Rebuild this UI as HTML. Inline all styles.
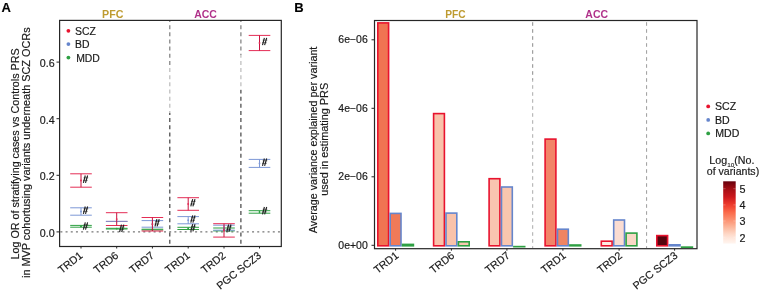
<!DOCTYPE html>
<html><head><meta charset="utf-8"><style>
html,body{margin:0;padding:0;background:#fff;width:763px;height:292px;overflow:hidden}
svg{display:block;will-change:transform}
text{font-family:"Liberation Sans", sans-serif;stroke:currentColor;stroke-width:0.18px}
</style></head><body>
<svg fill="#1a1a1a" color="#1a1a1a" width="763" height="292" viewBox="0 0 763 292">
<text x="1.5" y="12" font-size="13" font-weight="bold" fill="#000">A</text>
<text transform="translate(19.3,153.9) rotate(-90)" text-anchor="middle" font-size="10.78">Log OR of stratifying cases vs Controls PRS</text>
<text transform="translate(30,152.7) rotate(-90)" text-anchor="middle" font-size="10.88">in MVP cohortusing variants underneath SCZ OCRs</text>
<line x1="56.5" x2="59.5" y1="231.9" y2="231.9" stroke="#262626" stroke-width="1"/>
<text transform="translate(54.6,236.9) scale(1.07,1)" text-anchor="end" font-size="10">0.0</text>
<line x1="56.5" x2="59.5" y1="175.3" y2="175.3" stroke="#262626" stroke-width="1"/>
<text transform="translate(54.6,180.3) scale(1.07,1)" text-anchor="end" font-size="10">0.2</text>
<line x1="56.5" x2="59.5" y1="118.7" y2="118.7" stroke="#262626" stroke-width="1"/>
<text transform="translate(54.6,123.7) scale(1.07,1)" text-anchor="end" font-size="10">0.4</text>
<line x1="56.5" x2="59.5" y1="62.1" y2="62.1" stroke="#262626" stroke-width="1"/>
<text transform="translate(54.6,67.1) scale(1.07,1)" text-anchor="end" font-size="10">0.6</text>
<line x1="169.8" x2="169.8" y1="21" y2="68" stroke="#777" stroke-width="1.15" stroke-dasharray="4 3.15" stroke-dashoffset="3.00"/>
<line x1="169.8" x2="169.8" y1="68" y2="113" stroke="#b8b8b8" stroke-width="1.15" stroke-dasharray="4 3.15" stroke-dashoffset="50.00"/>
<line x1="169.8" x2="169.8" y1="113" y2="246" stroke="#3a3a3a" stroke-width="1.15" stroke-dasharray="4 3.15" stroke-dashoffset="95.00"/>
<line x1="240.9" x2="240.9" y1="21" y2="55" stroke="#777" stroke-width="1.15" stroke-dasharray="4 3.15" stroke-dashoffset="3.00"/>
<line x1="240.9" x2="240.9" y1="55" y2="90" stroke="#b8b8b8" stroke-width="1.15" stroke-dasharray="4 3.15" stroke-dashoffset="37.00"/>
<line x1="240.9" x2="240.9" y1="90" y2="246" stroke="#3a3a3a" stroke-width="1.15" stroke-dasharray="4 3.15" stroke-dashoffset="72.00"/>
<line x1="60.4" x2="281" y1="231.9" y2="231.9" stroke="#555" stroke-width="1" stroke-dasharray="2 3.18"/>
<rect x="59.6" y="20.4" width="221.70000000000002" height="226.1" fill="none" stroke="#262626" stroke-width="1.2"/>
<line x1="81.0" x2="81.0" y1="246.5" y2="248.5" stroke="#262626" stroke-width="1"/>
<line x1="116.7" x2="116.7" y1="246.5" y2="248.5" stroke="#262626" stroke-width="1"/>
<line x1="152.4" x2="152.4" y1="246.5" y2="248.5" stroke="#262626" stroke-width="1"/>
<line x1="188.2" x2="188.2" y1="246.5" y2="248.5" stroke="#262626" stroke-width="1"/>
<line x1="224.0" x2="224.0" y1="246.5" y2="248.5" stroke="#262626" stroke-width="1"/>
<line x1="259.5" x2="259.5" y1="246.5" y2="248.5" stroke="#262626" stroke-width="1"/>
<text transform="translate(83.5,256.7) rotate(-38.5)" text-anchor="end" font-size="10.7">TRD1</text>
<text transform="translate(119.2,256.7) rotate(-38.5)" text-anchor="end" font-size="10.7">TRD6</text>
<text transform="translate(154.9,256.7) rotate(-38.5)" text-anchor="end" font-size="10.7">TRD7</text>
<text transform="translate(190.7,256.7) rotate(-38.5)" text-anchor="end" font-size="10.7">TRD1</text>
<text transform="translate(226.5,256.7) rotate(-38.5)" text-anchor="end" font-size="10.7">TRD2</text>
<text transform="translate(262.0,256.7) rotate(-38.5)" text-anchor="end" font-size="10.7">PGC SCZ3</text>
<text transform="translate(102.1,17.8) scale(1.07,1)" font-size="10" font-weight="bold" fill="#BE9B30" style="stroke:none">PFC</text>
<text transform="translate(194.2,17.8) scale(1.05,1)" font-size="10" font-weight="bold" fill="#B0328A" style="stroke:none">ACC</text>
<circle cx="68.4" cy="30.8" r="1.9" fill="#E8132E"/>
<text transform="translate(75,34.8) scale(1.04,1)" font-size="10">SCZ</text>
<circle cx="68.4" cy="44.1" r="1.9" fill="#6585CC"/>
<text transform="translate(75,48.1) scale(1.04,1)" font-size="10">BD</text>
<circle cx="68.4" cy="57.6" r="1.9" fill="#2EA043"/>
<text transform="translate(76.2,61.6) scale(1.04,1)" font-size="10">MDD</text>
<line x1="70.2" x2="91.8" y1="225.4" y2="225.4" stroke="#2EA043" stroke-width="1"/>
<line x1="70.2" x2="91.8" y1="227.2" y2="227.2" stroke="#2EA043" stroke-width="1"/>
<line x1="81.0" x2="81.0" y1="225.4" y2="227.2" stroke="#2EA043" stroke-width="1"/>
<circle cx="81.0" cy="226.3" r="0.9" fill="#2EA043"/>
<line x1="105.9" x2="127.5" y1="228.3" y2="228.3" stroke="#2EA043" stroke-width="1"/>
<line x1="105.9" x2="127.5" y1="229.0" y2="229.0" stroke="#2EA043" stroke-width="1"/>
<line x1="116.7" x2="116.7" y1="228.3" y2="229.0" stroke="#2EA043" stroke-width="1"/>
<circle cx="116.7" cy="228.7" r="0.9" fill="#2EA043"/>
<line x1="141.6" x2="163.2" y1="229.2" y2="229.2" stroke="#2EA043" stroke-width="1"/>
<line x1="141.6" x2="163.2" y1="229.9" y2="229.9" stroke="#2EA043" stroke-width="1"/>
<line x1="152.4" x2="152.4" y1="229.2" y2="229.9" stroke="#2EA043" stroke-width="1"/>
<circle cx="152.4" cy="229.6" r="0.9" fill="#2EA043"/>
<line x1="177.4" x2="199.0" y1="227.3" y2="227.3" stroke="#2EA043" stroke-width="1"/>
<line x1="177.4" x2="199.0" y1="229.5" y2="229.5" stroke="#2EA043" stroke-width="1"/>
<line x1="188.2" x2="188.2" y1="227.3" y2="229.5" stroke="#2EA043" stroke-width="1"/>
<circle cx="188.2" cy="228.4" r="0.9" fill="#2EA043"/>
<line x1="213.2" x2="234.8" y1="228.0" y2="228.0" stroke="#2EA043" stroke-width="1"/>
<line x1="213.2" x2="234.8" y1="230.9" y2="230.9" stroke="#2EA043" stroke-width="1"/>
<line x1="224.0" x2="224.0" y1="228.0" y2="230.9" stroke="#2EA043" stroke-width="1"/>
<circle cx="224.0" cy="229.4" r="0.9" fill="#2EA043"/>
<line x1="248.7" x2="270.3" y1="210.7" y2="210.7" stroke="#2EA043" stroke-width="1"/>
<line x1="248.7" x2="270.3" y1="213.2" y2="213.2" stroke="#2EA043" stroke-width="1"/>
<line x1="259.5" x2="259.5" y1="210.7" y2="213.2" stroke="#2EA043" stroke-width="1"/>
<circle cx="259.5" cy="211.9" r="0.9" fill="#2EA043"/>
<line x1="70.2" x2="91.8" y1="207.8" y2="207.8" stroke="#7D98D6" stroke-width="1"/>
<line x1="70.2" x2="91.8" y1="215.2" y2="215.2" stroke="#7D98D6" stroke-width="1"/>
<line x1="81.0" x2="81.0" y1="207.8" y2="215.2" stroke="#7D98D6" stroke-width="1"/>
<circle cx="81.0" cy="211.5" r="0.9" fill="#7D98D6"/>
<line x1="105.9" x2="127.5" y1="221.4" y2="221.4" stroke="#8C88C0" stroke-width="1"/>
<line x1="105.9" x2="127.5" y1="221.4" y2="221.4" stroke="#8C88C0" stroke-width="1"/>
<line x1="116.7" x2="116.7" y1="221.4" y2="221.4" stroke="#8C88C0" stroke-width="1"/>
<circle cx="116.7" cy="221.4" r="0.9" fill="#8C88C0"/>
<line x1="141.6" x2="163.2" y1="220.6" y2="220.6" stroke="#7D98D6" stroke-width="1"/>
<line x1="141.6" x2="163.2" y1="227.2" y2="227.2" stroke="#7D98D6" stroke-width="1"/>
<line x1="152.4" x2="152.4" y1="220.6" y2="227.2" stroke="#7D98D6" stroke-width="1"/>
<circle cx="152.4" cy="223.9" r="0.9" fill="#7D98D6"/>
<line x1="177.4" x2="199.0" y1="216.6" y2="216.6" stroke="#7D98D6" stroke-width="1"/>
<line x1="177.4" x2="199.0" y1="223.8" y2="223.8" stroke="#7D98D6" stroke-width="1"/>
<line x1="188.2" x2="188.2" y1="216.6" y2="223.8" stroke="#7D98D6" stroke-width="1"/>
<circle cx="188.2" cy="220.2" r="0.9" fill="#7D98D6"/>
<line x1="213.2" x2="234.8" y1="225.2" y2="225.2" stroke="#7D98D6" stroke-width="1"/>
<line x1="213.2" x2="234.8" y1="230.2" y2="230.2" stroke="#7D98D6" stroke-width="1"/>
<line x1="224.0" x2="224.0" y1="225.2" y2="230.2" stroke="#7D98D6" stroke-width="1"/>
<circle cx="224.0" cy="227.7" r="0.9" fill="#7D98D6"/>
<line x1="248.7" x2="270.3" y1="159.4" y2="159.4" stroke="#7D98D6" stroke-width="1"/>
<line x1="248.7" x2="270.3" y1="167.4" y2="167.4" stroke="#7D98D6" stroke-width="1"/>
<line x1="259.5" x2="259.5" y1="159.4" y2="167.4" stroke="#7D98D6" stroke-width="1"/>
<circle cx="259.5" cy="163.4" r="0.9" fill="#7D98D6"/>
<line x1="70.2" x2="91.8" y1="173.8" y2="173.8" stroke="#E42D55" stroke-width="1"/>
<line x1="70.2" x2="91.8" y1="187.2" y2="187.2" stroke="#E42D55" stroke-width="1"/>
<line x1="81.0" x2="81.0" y1="173.8" y2="187.2" stroke="#C8123E" stroke-width="1"/>
<circle cx="81.0" cy="180.5" r="0.9" fill="#E42D55"/>
<line x1="105.9" x2="127.5" y1="212.7" y2="212.7" stroke="#E42D55" stroke-width="1"/>
<line x1="105.9" x2="127.5" y1="225.5" y2="225.5" stroke="#E42D55" stroke-width="1"/>
<line x1="116.7" x2="116.7" y1="212.7" y2="225.5" stroke="#C8123E" stroke-width="1"/>
<circle cx="116.7" cy="219.1" r="0.9" fill="#E42D55"/>
<line x1="141.6" x2="163.2" y1="217.5" y2="217.5" stroke="#E42D55" stroke-width="1"/>
<line x1="141.6" x2="163.2" y1="231.0" y2="231.0" stroke="#E42D55" stroke-width="1"/>
<line x1="152.4" x2="152.4" y1="217.5" y2="231.0" stroke="#C8123E" stroke-width="1"/>
<circle cx="152.4" cy="224.2" r="0.9" fill="#E42D55"/>
<line x1="177.4" x2="199.0" y1="197.7" y2="197.7" stroke="#E42D55" stroke-width="1"/>
<line x1="177.4" x2="199.0" y1="210.3" y2="210.3" stroke="#E42D55" stroke-width="1"/>
<line x1="188.2" x2="188.2" y1="197.7" y2="210.3" stroke="#C8123E" stroke-width="1"/>
<circle cx="188.2" cy="204.0" r="0.9" fill="#E42D55"/>
<line x1="213.2" x2="234.8" y1="223.7" y2="223.7" stroke="#E42D55" stroke-width="1"/>
<line x1="213.2" x2="234.8" y1="237.1" y2="237.1" stroke="#E42D55" stroke-width="1"/>
<line x1="224.0" x2="224.0" y1="223.7" y2="237.1" stroke="#C8123E" stroke-width="1"/>
<circle cx="224.0" cy="230.4" r="0.9" fill="#E42D55"/>
<line x1="248.7" x2="270.3" y1="35.4" y2="35.4" stroke="#E42D55" stroke-width="1"/>
<line x1="248.7" x2="270.3" y1="50.6" y2="50.6" stroke="#E42D55" stroke-width="1"/>
<line x1="259.5" x2="259.5" y1="35.4" y2="50.6" stroke="#C8123E" stroke-width="1"/>
<circle cx="259.5" cy="43.0" r="0.9" fill="#E42D55"/>
<g transform="translate(81.0,180.4)" stroke="#222" fill="none"><path d="M2.4 2.4L4.3 -4.9M4.5 2.4L6.6 -4.9" stroke-width="1.15"/><path d="M2.6 -2.6H7.2M2 0H6.6" stroke-width="0.6"/></g>
<g transform="translate(81.0,211.4)" stroke="#222" fill="none"><path d="M2.4 2.4L4.3 -4.9M4.5 2.4L6.6 -4.9" stroke-width="1.15"/><path d="M2.6 -2.6H7.2M2 0H6.6" stroke-width="0.6"/></g>
<g transform="translate(81.0,227.3)" stroke="#222" fill="none"><path d="M2.4 2.4L4.3 -4.9M4.5 2.4L6.6 -4.9" stroke-width="1.15"/><path d="M2.6 -2.6H7.2M2 0H6.6" stroke-width="0.6"/></g>
<g transform="translate(117.2,229.6)" stroke="#222" fill="none"><path d="M2.4 2.4L4.3 -4.9M4.5 2.4L6.6 -4.9" stroke-width="1.15"/><path d="M2.6 -2.6H7.2M2 0H6.6" stroke-width="0.6"/></g>
<g transform="translate(152.6,224.0)" stroke="#222" fill="none"><path d="M2.4 2.4L4.3 -4.9M4.5 2.4L6.6 -4.9" stroke-width="1.15"/><path d="M2.6 -2.6H7.2M2 0H6.6" stroke-width="0.6"/></g>
<g transform="translate(188.4,204.0)" stroke="#222" fill="none"><path d="M2.4 2.4L4.3 -4.9M4.5 2.4L6.6 -4.9" stroke-width="1.15"/><path d="M2.6 -2.6H7.2M2 0H6.6" stroke-width="0.6"/></g>
<g transform="translate(188.4,220.3)" stroke="#222" fill="none"><path d="M2.4 2.4L4.3 -4.9M4.5 2.4L6.6 -4.9" stroke-width="1.15"/><path d="M2.6 -2.6H7.2M2 0H6.6" stroke-width="0.6"/></g>
<g transform="translate(188.4,229.0)" stroke="#222" fill="none"><path d="M2.4 2.4L4.3 -4.9M4.5 2.4L6.6 -4.9" stroke-width="1.15"/><path d="M2.6 -2.6H7.2M2 0H6.6" stroke-width="0.6"/></g>
<g transform="translate(224.4,229.4)" stroke="#222" fill="none"><path d="M2.4 2.4L4.3 -4.9M4.5 2.4L6.6 -4.9" stroke-width="1.15"/><path d="M2.6 -2.6H7.2M2 0H6.6" stroke-width="0.6"/></g>
<g transform="translate(260.1,42.7)" stroke="#222" fill="none"><path d="M2.4 2.4L4.3 -4.9M4.5 2.4L6.6 -4.9" stroke-width="1.15"/><path d="M2.6 -2.6H7.2M2 0H6.6" stroke-width="0.6"/></g>
<g transform="translate(260.1,163.4)" stroke="#222" fill="none"><path d="M2.4 2.4L4.3 -4.9M4.5 2.4L6.6 -4.9" stroke-width="1.15"/><path d="M2.6 -2.6H7.2M2 0H6.6" stroke-width="0.6"/></g>
<g transform="translate(260.1,211.9)" stroke="#222" fill="none"><path d="M2.4 2.4L4.3 -4.9M4.5 2.4L6.6 -4.9" stroke-width="1.15"/><path d="M2.6 -2.6H7.2M2 0H6.6" stroke-width="0.6"/></g>
<text x="294.3" y="12" font-size="13" font-weight="bold" fill="#000">B</text>
<text transform="translate(316.8,139.9) rotate(-90)" text-anchor="middle" font-size="10.77">Average variance explained per variant</text>
<text transform="translate(327.8,139.3) rotate(-90)" text-anchor="middle" font-size="10.88">used in estimating PRS</text>
<line x1="371.5" x2="374.5" y1="245.3" y2="245.3" stroke="#262626" stroke-width="1"/>
<text transform="translate(367.8,248.8) scale(1.05,1)" text-anchor="end" font-size="10">0e+00</text>
<line x1="371.5" x2="374.5" y1="176.8" y2="176.8" stroke="#262626" stroke-width="1"/>
<text transform="translate(367.8,180.3) scale(1.05,1)" text-anchor="end" font-size="10">2e−06</text>
<line x1="371.5" x2="374.5" y1="108.3" y2="108.3" stroke="#262626" stroke-width="1"/>
<text transform="translate(367.8,111.8) scale(1.05,1)" text-anchor="end" font-size="10">4e−06</text>
<line x1="371.5" x2="374.5" y1="39.8" y2="39.8" stroke="#262626" stroke-width="1"/>
<text transform="translate(367.8,43.3) scale(1.05,1)" text-anchor="end" font-size="10">6e−06</text>
<line x1="532.7" x2="532.7" y1="21" y2="80" stroke="#8a8a8a" stroke-width="1" stroke-dasharray="3.6 3.4" stroke-dashoffset="-1.20"/>
<line x1="532.7" x2="532.7" y1="80" y2="248" stroke="#ababab" stroke-width="1" stroke-dasharray="3.6 3.4" stroke-dashoffset="57.80"/>
<line x1="646.6" x2="646.6" y1="21" y2="248" stroke="#9c9c9c" stroke-width="1" stroke-dasharray="3.6 3.4" stroke-dashoffset="-1.20"/>
<rect x="377.80" y="22.90" width="10.80" height="222.90" fill="#F07452" stroke="#E8132E" stroke-width="1.6"/>
<rect x="390.20" y="213.40" width="10.80" height="32.40" fill="#F07A58" stroke="#6585CC" stroke-width="1.6"/>
<rect x="402.60" y="244.40" width="10.80" height="1.40" fill="#F4A080" stroke="#2EA043" stroke-width="1.6"/>
<rect x="433.60" y="113.60" width="10.80" height="132.20" fill="#F9C2AA" stroke="#E8132E" stroke-width="1.6"/>
<rect x="446.00" y="213.10" width="10.80" height="32.70" fill="#F9C2AA" stroke="#6585CC" stroke-width="1.6"/>
<rect x="458.40" y="241.80" width="10.80" height="4.00" fill="#F9C8B0" stroke="#2EA043" stroke-width="1.6"/>
<rect x="489.10" y="178.70" width="10.80" height="67.10" fill="#F9C4B0" stroke="#E8132E" stroke-width="1.6"/>
<rect x="501.50" y="187.00" width="10.80" height="58.80" fill="#F9C6AE" stroke="#6585CC" stroke-width="1.6"/>
<rect x="513.90" y="246.60" width="10.80" height="0.10" fill="#FAD0C0" stroke="#2EA043" stroke-width="1.6"/>
<rect x="545.10" y="139.10" width="10.80" height="106.70" fill="#F28468" stroke="#E8132E" stroke-width="1.6"/>
<rect x="557.50" y="229.20" width="10.80" height="16.60" fill="#F08462" stroke="#6585CC" stroke-width="1.6"/>
<rect x="569.90" y="245.00" width="10.80" height="0.80" fill="#F4A080" stroke="#2EA043" stroke-width="1.6"/>
<rect x="601.30" y="241.20" width="10.80" height="4.60" fill="#FDEAE2" stroke="#E8132E" stroke-width="1.6"/>
<rect x="613.70" y="220.00" width="10.80" height="25.80" fill="#FADCD2" stroke="#6585CC" stroke-width="1.6"/>
<rect x="626.10" y="233.10" width="10.80" height="12.70" fill="#F9D8C6" stroke="#2EA043" stroke-width="1.6"/>
<rect x="656.80" y="235.60" width="10.80" height="10.20" fill="#55040E" stroke="#E8132E" stroke-width="1.6"/>
<rect x="669.20" y="244.80" width="10.80" height="1.00" fill="#FDE0D6" stroke="#6585CC" stroke-width="1.6"/>
<rect x="681.60" y="247.10" width="10.80" height="0.10" fill="#FFF0EA" stroke="#2EA043" stroke-width="1.6"/>
<rect x="374.5" y="20.5" width="322.5" height="228.2" fill="none" stroke="#262626" stroke-width="1.2"/>
<line x1="395.6" x2="395.6" y1="248.7" y2="250.7" stroke="#262626" stroke-width="1"/>
<line x1="451.4" x2="451.4" y1="248.7" y2="250.7" stroke="#262626" stroke-width="1"/>
<line x1="506.9" x2="506.9" y1="248.7" y2="250.7" stroke="#262626" stroke-width="1"/>
<line x1="562.9" x2="562.9" y1="248.7" y2="250.7" stroke="#262626" stroke-width="1"/>
<line x1="619.1" x2="619.1" y1="248.7" y2="250.7" stroke="#262626" stroke-width="1"/>
<line x1="674.6" x2="674.6" y1="248.7" y2="250.7" stroke="#262626" stroke-width="1"/>
<text transform="translate(399.3,256.7) rotate(-38.5)" text-anchor="end" font-size="10.7">TRD1</text>
<text transform="translate(455.1,256.7) rotate(-38.5)" text-anchor="end" font-size="10.7">TRD6</text>
<text transform="translate(510.6,256.7) rotate(-38.5)" text-anchor="end" font-size="10.7">TRD7</text>
<text transform="translate(566.6,256.7) rotate(-38.5)" text-anchor="end" font-size="10.7">TRD1</text>
<text transform="translate(622.8,256.7) rotate(-38.5)" text-anchor="end" font-size="10.7">TRD2</text>
<text transform="translate(678.3,256.7) rotate(-38.5)" text-anchor="end" font-size="10.7">PGC SCZ3</text>
<text transform="translate(445.2,17.8) scale(1.02,1)" font-size="10" font-weight="bold" fill="#BE9B30" style="stroke:none">PFC</text>
<text transform="translate(585.3,17.8) scale(1.05,1)" font-size="10" font-weight="bold" fill="#B0328A" style="stroke:none">ACC</text>
<circle cx="708.2" cy="106.4" r="1.9" fill="#E8132E"/>
<text transform="translate(715,110.2) scale(1.06,1)" font-size="10">SCZ</text>
<circle cx="708.2" cy="119.9" r="1.9" fill="#6585CC"/>
<text transform="translate(715,123.7) scale(1.06,1)" font-size="10">BD</text>
<circle cx="708.2" cy="133.4" r="1.9" fill="#2EA043"/>
<text transform="translate(715.3,137.2) scale(1.06,1)" font-size="10">MDD</text>
<text transform="translate(731.9,164.4) scale(1.07,1)" text-anchor="middle" font-size="10">Log<tspan font-size="6" dy="3" style="stroke-width:0.1px">10</tspan><tspan dy="-3">(No.</tspan></text>
<text transform="translate(733,175.4) scale(1.06,1)" text-anchor="middle" font-size="10">of variants)</text>
<defs><linearGradient id="cb" x1="0" y1="1" x2="0" y2="0"><stop offset="0.00" stop-color="#FFF5F0"/><stop offset="0.05" stop-color="#FFEDE4"/><stop offset="0.10" stop-color="#FEE4D8"/><stop offset="0.15" stop-color="#FED9C8"/><stop offset="0.20" stop-color="#FDCAB5"/><stop offset="0.25" stop-color="#FCBBA1"/><stop offset="0.30" stop-color="#FCAB8E"/><stop offset="0.35" stop-color="#FC9A7B"/><stop offset="0.40" stop-color="#FC8A6A"/><stop offset="0.45" stop-color="#FB7A5A"/><stop offset="0.50" stop-color="#FB6A4A"/><stop offset="0.55" stop-color="#F6573E"/><stop offset="0.60" stop-color="#F14432"/><stop offset="0.65" stop-color="#E83429"/><stop offset="0.70" stop-color="#D92623"/><stop offset="0.75" stop-color="#CB181D"/><stop offset="0.80" stop-color="#BC141A"/><stop offset="0.85" stop-color="#AD1117"/><stop offset="0.90" stop-color="#990C13"/><stop offset="0.95" stop-color="#800610"/><stop offset="1.00" stop-color="#67000D"/></linearGradient></defs>
<rect x="723.2" y="181.3" width="12.5" height="62.3" fill="url(#cb)"/>
<line x1="723.2" x2="725.6" y1="237.2" y2="237.2" stroke="#fff" stroke-width="0.5" stroke-opacity="0.5"/>
<line x1="733.3" x2="735.7" y1="237.2" y2="237.2" stroke="#fff" stroke-width="0.5" stroke-opacity="0.5"/>
<text transform="translate(739.6,241.5) scale(1.08,1)" font-size="10">2</text>
<line x1="723.2" x2="725.6" y1="221.0" y2="221.0" stroke="#fff" stroke-width="0.5" stroke-opacity="0.5"/>
<line x1="733.3" x2="735.7" y1="221.0" y2="221.0" stroke="#fff" stroke-width="0.5" stroke-opacity="0.5"/>
<text transform="translate(739.6,225.3) scale(1.08,1)" font-size="10">3</text>
<line x1="723.2" x2="725.6" y1="204.9" y2="204.9" stroke="#fff" stroke-width="0.5" stroke-opacity="0.5"/>
<line x1="733.3" x2="735.7" y1="204.9" y2="204.9" stroke="#fff" stroke-width="0.5" stroke-opacity="0.5"/>
<text transform="translate(739.6,209.2) scale(1.08,1)" font-size="10">4</text>
<line x1="723.2" x2="725.6" y1="188.7" y2="188.7" stroke="#fff" stroke-width="0.5" stroke-opacity="0.5"/>
<line x1="733.3" x2="735.7" y1="188.7" y2="188.7" stroke="#fff" stroke-width="0.5" stroke-opacity="0.5"/>
<text transform="translate(739.6,193.0) scale(1.08,1)" font-size="10">5</text>
</svg>
</body></html>
